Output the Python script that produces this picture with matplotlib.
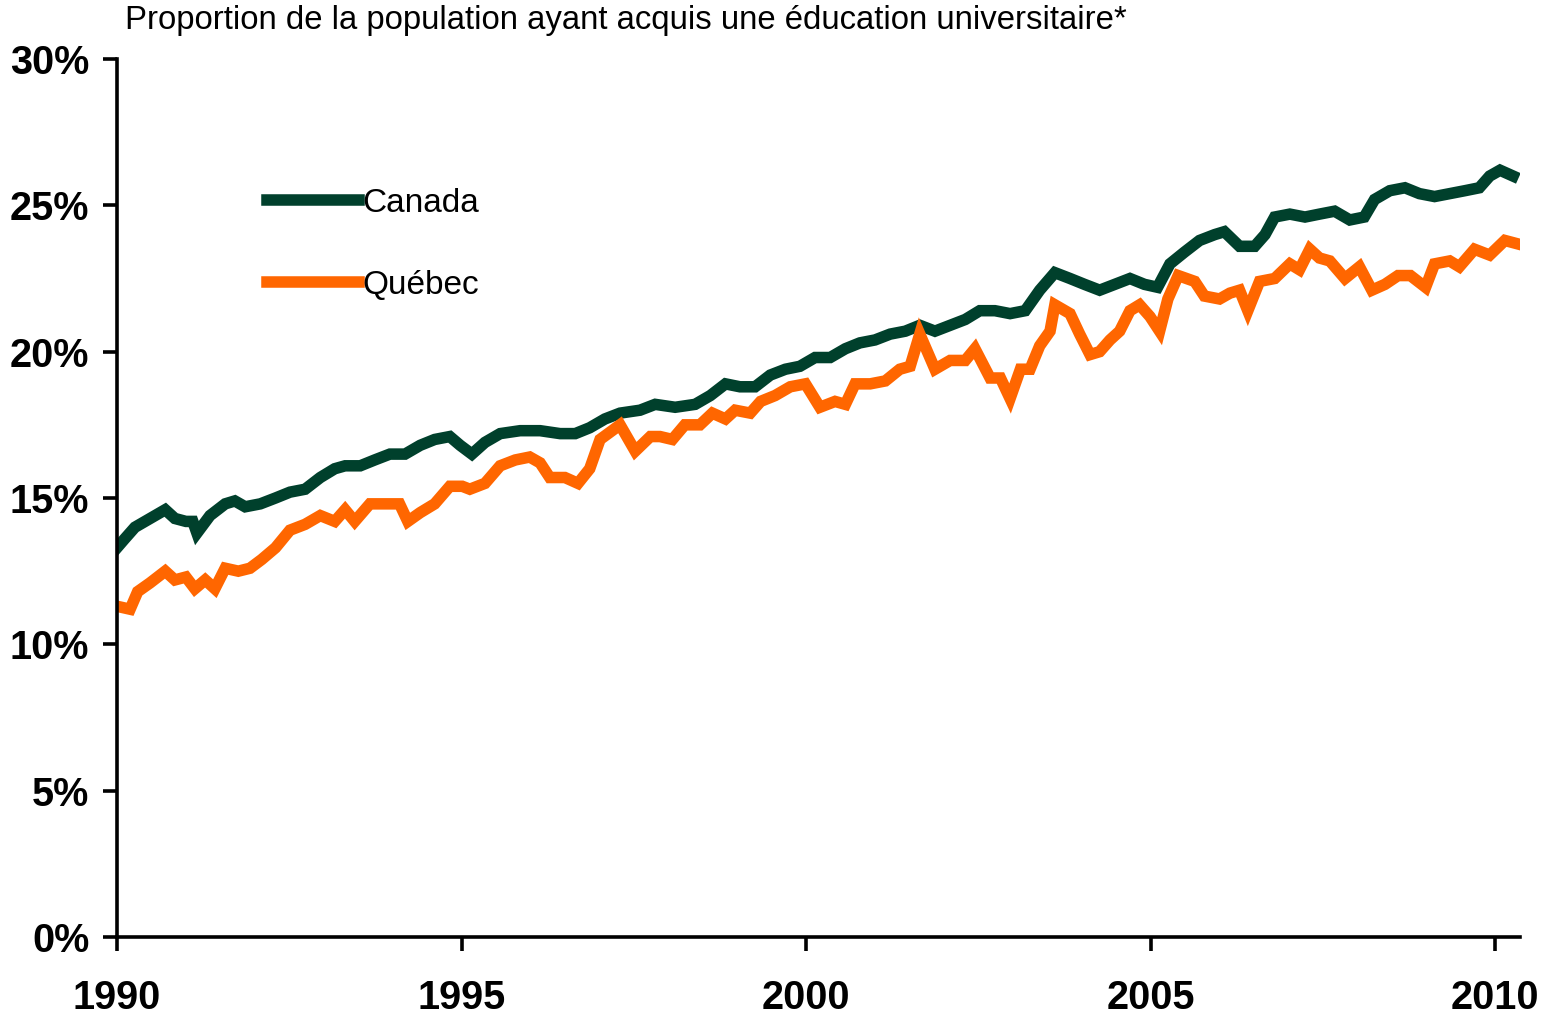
import matplotlib
matplotlib.use("Agg")
import matplotlib.pyplot as plt
from matplotlib.ticker import FuncFormatter

plt.rcParams["font.family"] = ["Liberation Sans", "DejaVu Sans"]

# ── data (% of population) ─────────────────────────────────────────────
canada_years = [
    1990.00, 1990.11, 1990.26, 1990.48, 1990.70, 1990.84, 1991.00, 1991.10,
    1991.16, 1991.35, 1991.57, 1991.71, 1991.86, 1992.08, 1992.30, 1992.51,
    1992.73, 1992.95, 1993.16, 1993.31, 1993.53, 1993.74, 1993.96, 1994.18,
    1994.40, 1994.61, 1994.83, 1994.98, 1995.15, 1995.34, 1995.56, 1995.85,
    1996.14, 1996.43, 1996.65, 1996.86, 1997.08, 1997.30, 1997.59, 1997.81,
    1998.10, 1998.39, 1998.61, 1998.83, 1999.04, 1999.26, 1999.48, 1999.70,
    1999.91, 2000.13, 2000.35, 2000.57, 2000.78, 2001.00, 2001.22, 2001.44,
    2001.65, 2001.87, 2002.09, 2002.31, 2002.52, 2002.74, 2002.96, 2003.18,
    2003.39, 2003.61, 2003.83, 2004.04, 2004.26, 2004.48, 2004.70, 2004.91,
    2005.10, 2005.28, 2005.49, 2005.71, 2005.93, 2006.07, 2006.29, 2006.51,
    2006.66, 2006.80, 2007.02, 2007.24, 2007.45, 2007.67, 2007.89, 2008.10,
    2008.25, 2008.47, 2008.69, 2008.90, 2009.12, 2009.34, 2009.56, 2009.77,
    2009.92, 2010.07, 2010.26,
]
canada_values = [
    13.3, 13.6, 14.0, 14.3, 14.6, 14.3, 14.2, 14.2,
    13.8, 14.4, 14.8, 14.9, 14.7, 14.8, 15.0, 15.2,
    15.3, 15.7, 16.0, 16.1, 16.1, 16.3, 16.5, 16.5,
    16.8, 17.0, 17.1, 16.8, 16.5, 16.9, 17.2, 17.3,
    17.3, 17.2, 17.2, 17.4, 17.7, 17.9, 18.0, 18.2,
    18.1, 18.2, 18.5, 18.9, 18.8, 18.8, 19.2, 19.4,
    19.5, 19.8, 19.8, 20.1, 20.3, 20.4, 20.6, 20.7,
    20.9, 20.7, 20.9, 21.1, 21.4, 21.4, 21.3, 21.4,
    22.1, 22.7, 22.5, 22.3, 22.1, 22.3, 22.5, 22.3,
    22.2, 23.0, 23.4, 23.8, 24.0, 24.1, 23.6, 23.6,
    24.0, 24.6, 24.7, 24.6, 24.7, 24.8, 24.5, 24.6,
    25.2, 25.5, 25.6, 25.4, 25.3, 25.4, 25.5, 25.6,
    26.0, 26.2, 26.0,
]

quebec_years = [
    1990.00, 1990.19, 1990.30, 1990.48, 1990.70, 1990.84, 1991.00, 1991.13,
    1991.28, 1991.42, 1991.57, 1991.76, 1991.93, 1992.10, 1992.30, 1992.51,
    1992.73, 1992.95, 1993.16, 1993.31, 1993.45, 1993.67, 1993.89, 1994.10,
    1994.22, 1994.40, 1994.61, 1994.83, 1995.01, 1995.12, 1995.34, 1995.56,
    1995.78, 1995.99, 1996.14, 1996.28, 1996.50, 1996.69, 1996.86, 1997.01,
    1997.30, 1997.52, 1997.74, 1997.88, 1998.06, 1998.24, 1998.46, 1998.64,
    1998.83, 1998.97, 1999.19, 1999.34, 1999.55, 1999.77, 1999.99, 2000.20,
    2000.42, 2000.57, 2000.71, 2000.93, 2001.15, 2001.36, 2001.51, 2001.65,
    2001.87, 2002.09, 2002.31, 2002.45, 2002.67, 2002.82, 2002.96, 2003.11,
    2003.25, 2003.39, 2003.54, 2003.61, 2003.83, 2003.97, 2004.12, 2004.26,
    2004.41, 2004.55, 2004.70, 2004.84, 2004.99, 2005.13, 2005.25, 2005.40,
    2005.64, 2005.78, 2006.00, 2006.15, 2006.29, 2006.41, 2006.58, 2006.80,
    2007.02, 2007.16, 2007.31, 2007.45, 2007.60, 2007.82, 2008.03, 2008.21,
    2008.40, 2008.59, 2008.77, 2008.99, 2009.12, 2009.34, 2009.48, 2009.70,
    2009.92, 2010.14, 2010.30,
]
quebec_values = [
    11.3, 11.2, 11.8, 12.1, 12.5, 12.2, 12.3, 11.9,
    12.2, 11.9, 12.6, 12.5, 12.6, 12.9, 13.3, 13.9,
    14.1, 14.4, 14.2, 14.6, 14.2, 14.8, 14.8, 14.8,
    14.2, 14.5, 14.8, 15.4, 15.4, 15.3, 15.5, 16.1,
    16.3, 16.4, 16.2, 15.7, 15.7, 15.5, 16.0, 17.0,
    17.5, 16.6, 17.1, 17.1, 17.0, 17.5, 17.5, 17.9,
    17.7, 18.0, 17.9, 18.3, 18.5, 18.8, 18.9, 18.1,
    18.3, 18.2, 18.9, 18.9, 19.0, 19.4, 19.5, 20.6,
    19.4, 19.7, 19.7, 20.1, 19.1, 19.1, 18.4, 19.4,
    19.4, 20.2, 20.7, 21.6, 21.3, 20.6, 19.9, 20.0,
    20.4, 20.7, 21.4, 21.6, 21.2, 20.7, 21.8, 22.6,
    22.4, 21.9, 21.8, 22.0, 22.1, 21.4, 22.4, 22.5,
    23.0, 22.8, 23.5, 23.2, 23.1, 22.5, 22.9, 22.1,
    22.3, 22.6, 22.6, 22.2, 23.0, 23.1, 22.9, 23.5,
    23.3, 23.8, 23.7,
]

x_ticks = [1990, 1995, 2000, 2005, 2010]
y_ticks = [0, 5, 10, 15, 20, 25, 30]
title = "Proportion de la population ayant acquis une éducation universitaire*"

GREEN = "#00402C"
ORANGE = "#FF6600"

fig = plt.figure(figsize=(15.56, 10.17), dpi=100)
ax = fig.add_axes([117 / 1556, 1 - 937 / 1017, (1520 - 117) / 1556, (937 - 59) / 1017])

ax.plot(canada_years, canada_values, color=GREEN, lw=8.3, solid_joinstyle="miter",
        label="Canada")
ax.plot(quebec_years, quebec_values, color=ORANGE, lw=8.3, solid_joinstyle="miter",
        label="Québec")

ax.set_xlim(1990, 2010.36)
ax.set_ylim(0, 30)
ax.set_xticks(x_ticks)
ax.set_yticks(y_ticks)
ax.yaxis.set_major_formatter(FuncFormatter(lambda v, _: f"{v:.0f}%"))

for side in ("top", "right"):
    ax.spines[side].set_visible(False)
for side in ("left", "bottom"):
    ax.spines[side].set_linewidth(2.6)
ax.tick_params(axis="both", direction="out", length=10, width=2.6,
               labelsize=28.5)
ax.tick_params(axis="y", pad=10)
ax.tick_params(axis="x", pad=20)
for lbl in ax.get_xticklabels() + ax.get_yticklabels():
    lbl.set_fontweight("bold")

ax.legend(loc="center left", bbox_to_anchor=(0.107, 0.789), frameon=False,
          fontsize=24, handlelength=2.75, handletextpad=0.1, labelspacing=1.54,
          borderpad=0, borderaxespad=0)

fig.text(125 / 1556, 1 - 20 / 1017, title, fontsize=23.7, va="center", ha="left")

fig.savefig("out.png", dpi=100)
plt.close(fig)
